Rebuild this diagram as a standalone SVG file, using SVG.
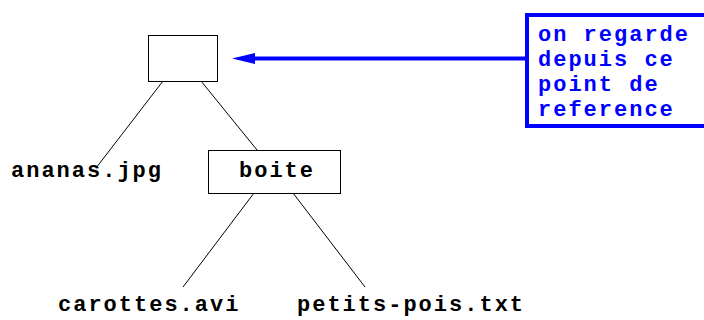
<svg xmlns="http://www.w3.org/2000/svg" width="704" height="320" viewBox="0 0 704 320">
  <style>
    .node { fill: #ffffff; stroke: #000000; stroke-width: 1; }
    .edge { fill: none; stroke: #000000; stroke-width: 1; }
    .lbl { font-family: "Liberation Mono", "Courier New", monospace; font-weight: bold; font-size: 22px; letter-spacing: 2px; fill: #000000; }
    .note { fill: #ffffff; stroke: #0000ff; stroke-width: 4; }
    .note-txt { font-family: "Liberation Mono", "Courier New", monospace; font-weight: bold; font-size: 22px; letter-spacing: 2px; fill: #0000ff; }
    .pointer { stroke: #0000ff; stroke-width: 4; fill: none; }
    .pointer-head { fill: #0000ff; stroke: none; }
  </style>

  <!-- tree edges and the pointer from the note -->
  <g id="connectors">
    <line class="edge" x1="163" y1="81" x2="96" y2="168"/>
    <line class="edge" x1="201" y1="81" x2="257" y2="150"/>
    <line class="edge" x1="254" y1="193" x2="183" y2="287"/>
    <line class="edge" x1="293" y1="193" x2="365" y2="287"/>
    <line class="pointer" x1="525" y1="58.5" x2="250" y2="58.5"/>
    <polygon class="pointer-head" points="232,58.5 255,53 255,64"/>
  </g>

  <g id="root">
    <rect class="node" x="148.5" y="35.5" width="69" height="46"/>
  </g>

  <g id="ananas">
    <text class="lbl" x="11" y="177">ananas.jpg</text>
  </g>

  <g id="boite">
    <rect class="node" x="208.5" y="150.5" width="132" height="43"/>
    <text class="lbl" x="239" y="177">boite</text>
  </g>

  <g id="carottes">
    <text class="lbl" x="58" y="311">carottes.avi</text>
  </g>

  <g id="petits-pois">
    <text class="lbl" x="297" y="311">petits-pois.txt</text>
  </g>

  <g id="note">
    <rect class="note" x="527" y="15" width="200" height="111"/>
    <text class="note-txt" x="538" y="41">on regarde</text>
    <text class="note-txt" x="538" y="66">depuis ce</text>
    <text class="note-txt" x="538" y="91">point de</text>
    <text class="note-txt" x="538" y="116">reference</text>
  </g>
</svg>
